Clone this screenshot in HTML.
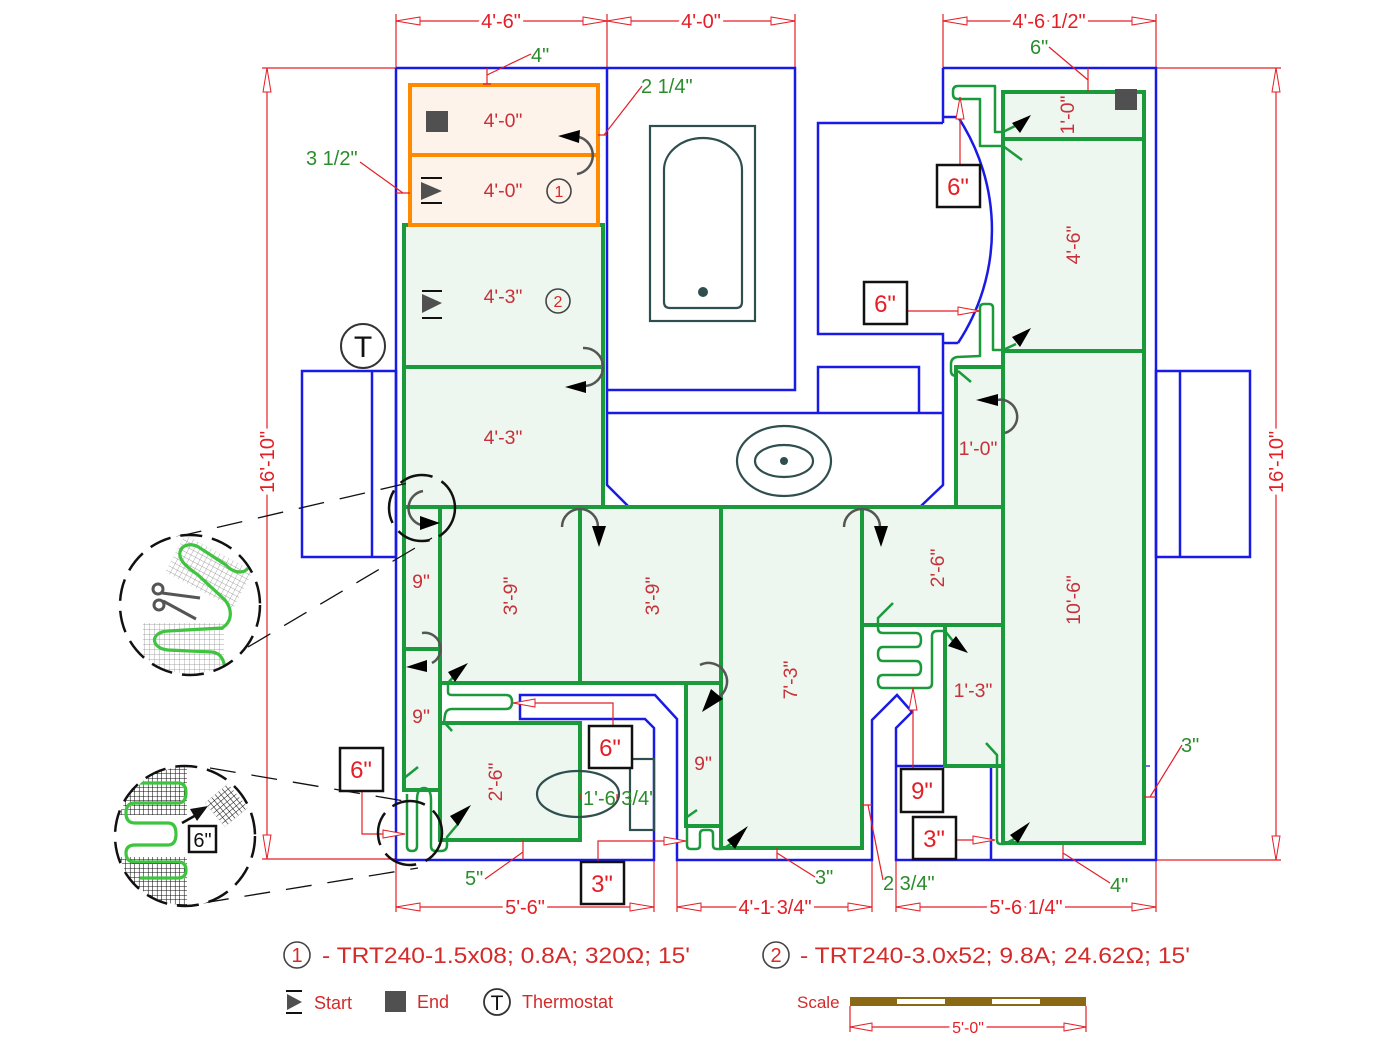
<!DOCTYPE html>
<html><head><meta charset="utf-8"><style>
html,body{margin:0;padding:0;background:#fff;}
svg{display:block;}
text{font-family:"Liberation Sans",Arial,sans-serif;}
</style></head><body>
<svg width="1400" height="1049" viewBox="0 0 1400 1049" xmlns="http://www.w3.org/2000/svg">
<defs>
<pattern id="g1" width="5" height="5" patternUnits="userSpaceOnUse"><path d="M5 0V5M0 5H5" stroke="#8a8a8a" stroke-width="0.7" fill="none"/></pattern>
<pattern id="g2" width="4.5" height="4.5" patternUnits="userSpaceOnUse"><rect width="4.5" height="4.5" fill="#fff"/><path d="M4.5 0V4.5M0 4.5H4.5" stroke="#111" stroke-width="1.1" fill="none"/></pattern>
<clipPath id="c1"><circle cx="190" cy="605" r="69"/></clipPath>
<clipPath id="c2"><circle cx="185" cy="836" r="69"/></clipPath>
</defs>
<rect width="1400" height="1049" fill="#fff"/>

<!-- ===== RED DIMENSIONS ===== -->
<g stroke="#e41e26" stroke-width="1.2" fill="none">
  <path d="M396,14V68M607,14V68M795,14V68M943,14V68M1156,14V68"/>
  <path d="M396,21H795M943,21H1156"/>
  <path d="M262,68H396M262,859H396M267,68V859"/>
  <path d="M1156,68H1281M1156,860H1281M1276,68V860"/>
  <path d="M396,860V912M654,860V912M677,860V912M872,860V912M896,860V912M1156,860V912"/>
  <path d="M396,907H654M677,907H872M896,907H1156"/>
  <path d="M850,1006V1032M1086,1006V1032M850,1027H1086"/>
</g>
<g fill="#fff" stroke="#e41e26" stroke-width="1">
  <polygon points="396,21 420,17 420,25"/><polygon points="607,21 583,17 583,25"/>
  <polygon points="607,21 631,17 631,25"/><polygon points="795,21 771,17 771,25"/>
  <polygon points="943,21 967,17 967,25"/><polygon points="1156,21 1132,17 1132,25"/>
  <polygon points="267,68 263,92 271,92"/><polygon points="267,859 263,835 271,835"/>
  <polygon points="1276,68 1272,92 1280,92"/><polygon points="1276,860 1272,836 1280,836"/>
  <polygon points="396,907 420,903 420,911"/><polygon points="654,907 630,903 630,911"/>
  <polygon points="677,907 701,903 701,911"/><polygon points="872,907 848,903 848,911"/>
  <polygon points="896,907 920,903 920,911"/><polygon points="1156,907 1132,903 1132,911"/>
  <polygon points="850,1027 872,1023 872,1031"/><polygon points="1086,1027 1064,1023 1064,1031"/>
</g>
<g fill="#e41e26" font-size="20" text-anchor="middle" stroke="#fff" stroke-width="7" paint-order="stroke">
  <text x="501" y="28">4'-6"</text>
  <text x="701" y="28">4'-0"</text>
  <text x="1049" y="28">4'-6 1/2"</text>
  <text x="525" y="914">5'-6"</text>
  <text x="775" y="914">4'-1 3/4"</text>
  <text x="1026" y="914">5'-6 1/4"</text>
  <text transform="translate(274,462) rotate(-90)">16'-10"</text>
  <text transform="translate(1283,462) rotate(-90)">16'-10"</text>
  <text x="968" y="1033" font-size="16">5'-0"</text>
</g>

<!-- ===== BLUE WALLS ===== -->
<g stroke="#1a1ae6" stroke-width="2.5" fill="none">
  <path d="M396,68H795V390H607"/>
  <path d="M607,68V485L628,506"/>
  <path d="M607,413H943"/>
  <path d="M943,68H1156V860H896V728L912,712L897,695L872,720V860H677V719L655,695H520V719H645L654,728V860H396V68"/>
  <path d="M943,68V123"/>
  <path d="M958,117H943"/>
  <path d="M943,123H818V334H943V485L921,506"/>
  <path d="M943,343H958"/>
  <path d="M958,117A205,205 0 0 1 958,343"/>
  <path d="M818,413V367H919V413"/>
  <rect x="302" y="371" width="94" height="186"/><path d="M372,371V557"/>
  <rect x="1156" y="371" width="94" height="186"/><path d="M1180,371V557"/>
  <path d="M896,766H945M991,766V860"/>
</g>
<path d="M1003,766H1150" stroke="#1a1ae6" stroke-width="1.2" stroke-dasharray="14 14"/>

<!-- ===== GREEN ZONES ===== -->
<g fill="#edf7ef" stroke="#1b9a3b" stroke-width="4">
  <rect x="404" y="225" width="199" height="142"/>
  <rect x="404" y="367" width="199" height="140"/>
  <rect x="404" y="507" width="36" height="142"/>
  <rect x="404" y="649" width="36" height="141"/>
  <rect x="440" y="507" width="140" height="176"/>
  <rect x="580" y="507" width="141" height="176"/>
  <rect x="721" y="507" width="141" height="341"/>
  <rect x="686" y="683" width="35" height="143"/>
  <rect x="440" y="723" width="140" height="117"/>
  <rect x="862" y="507" width="141" height="118"/>
  <rect x="945" y="625" width="58" height="141"/>
  <rect x="956" y="367" width="47" height="140"/>
  <rect x="1003" y="92" width="141" height="751"/>
  <path d="M1003,139H1144M1003,351H1144" fill="none"/>
</g>
<rect x="410" y="85" width="188" height="140" fill="#fdf3eb" stroke="#ff8a00" stroke-width="4"/>
<line x1="410" y1="155" x2="598" y2="155" stroke="#ff8a00" stroke-width="4"/>

<!-- ===== FIXTURES ===== -->
<g stroke="#2f4f4f" stroke-width="2.2" fill="none">
  <rect x="650" y="126" width="105" height="195"/>
  <path d="M664,170A39,32 0 0 1 742,170V302Q742,308 736,308H670Q664,308 664,302Z"/>
  <ellipse cx="784" cy="461" rx="47" ry="35"/>
  <ellipse cx="784" cy="461" rx="29" ry="16"/>
  <ellipse cx="578" cy="794" rx="41" ry="23"/>
  <rect x="630" y="759" width="24" height="71"/>
</g>
<circle cx="703" cy="292" r="5" fill="#2f4f4f"/>
<circle cx="784" cy="461" r="4" fill="#2f4f4f"/>

<!-- thin serpentines -->
<g stroke="#1b9a3b" stroke-width="2.5" fill="none" stroke-linejoin="round">
  <path d="M1015,126L1003,132H995V86H958Q953,86 953,91V94Q953,99 958,99H980V146H1003L1022,160"/>
  <path d="M1016,344L1003,350H993V308Q993,304 989,304H984Q980,304 980,308V356L957,357Q951,358 951,364V371Q951,376 957,376"/>
  <path d="M958,371L971,382"/>
  <path d="M893,603L878,618V628Q878,633 883,633H916Q921,633 921,640Q921,647 916,647H883Q878,647 878,654Q878,661 883,661H916Q921,661 921,668Q921,675 916,675H883Q878,675 878,681Q878,688 883,688H927Q932,688 932,683V636Q932,631 937,631H945L953,641"/>
  <path d="M455,675L448,683V692Q448,695 452,695H506Q512,695 512,702Q512,709 506,709H452Q446,709 445,715L444,722L452,731"/>
  <path d="M403,779L418,767"/>
  <path d="M407,794V846Q407,851 412,851Q417,851 417,846V800Q417,788 424,788Q431,788 431,800V846Q431,851 436,851H441Q447,851 447,845V837L458,824"/>
  <path d="M687,825V845Q687,849 691,849H696Q700,849 700,845V834Q700,830 704,830H709Q713,830 713,834V845Q713,849 717,849H723L735,841"/>
  <path d="M687,817L697,810"/>
  <path d="M986,743L997,755V840Q997,844 1001,844H1005L1016,838"/>
</g>

<!-- curved arrows -->
<g stroke="#555" stroke-width="2.5" fill="none">
  <path d="M579,137A19,19 0 0 1 577,174"/>
  <path d="M583,348A19,19 0 0 1 585,386"/>
  <path d="M423,491A17.5,17.5 0 0 0 421,525"/>
  <path d="M562,527A18,18 0 0 1 598,527"/>
  <path d="M844,527A18,18 0 0 1 880,527"/>
  <path d="M997,400A17,17 0 0 1 1005,433"/>
  <path d="M422,633A16,16 0 0 1 432,663"/>
  <path d="M700,665A18,18 0 0 1 717,698"/>
</g>
<g fill="#000">
  <polygon points="558,136 580,130 579,143"/>
  <polygon points="565,387 586,381 586,393"/>
  <polygon points="440,523 420,516 420,530"/>
  <polygon points="599,547 592,526 606,526"/>
  <polygon points="881,547 874,526 888,526"/>
  <polygon points="976,400 998,394 998,406"/>
  <polygon points="406,667 427,660 427,672"/>
  <polygon points="702,712 711,689 723,699"/>
  <polygon points="1031,115 1012,123 1020,133"/>
  <polygon points="1031,328 1012,337 1020,347"/>
  <polygon points="1030,822 1010,835 1018,843"/>
  <polygon points="968,653 948,646 956,636"/>
  <polygon points="468,663 448,672 455,682"/>
  <polygon points="471,805 450,816 458,826"/>
  <polygon points="748,826 727,840 735,849"/>
</g>

<!-- symbols -->
<rect x="426" y="111" width="22" height="21" fill="#505050"/>
<rect x="1115" y="89" width="22" height="21" fill="#505050"/>
<g stroke="#111" stroke-width="2"><path d="M421,178H442M421,203H442M422,291H442M422,318H442"/></g>
<polygon points="421,182 442,191 421,200" fill="#505050"/>
<polygon points="422,294 442,303 422,313" fill="#505050"/>
<g stroke="#444" stroke-width="1.6" fill="none">
  <circle cx="559" cy="191" r="12"/><circle cx="558" cy="301" r="12"/>
</g>
<g fill="#d42a2a" font-size="16" text-anchor="middle"><text x="559" y="197">1</text><text x="558" y="307">2</text></g>
<circle cx="363" cy="346" r="22" stroke="#333" stroke-width="2" fill="#fff"/>
<text x="363" y="357" font-size="30" text-anchor="middle" fill="#111">T</text>

<!-- zone labels -->
<g fill="#c8313a" font-size="19.5" text-anchor="middle">
  <text x="503" y="127">4'-0"</text>
  <text x="503" y="197">4'-0"</text>
  <text x="503" y="303">4'-3"</text>
  <text x="503" y="444">4'-3"</text>
  <text transform="translate(517,596) rotate(-90)">3'-9"</text>
  <text transform="translate(659,596) rotate(-90)">3'-9"</text>
  <text x="421" y="588">9"</text>
  <text x="421" y="723">9"</text>
  <text transform="translate(502,782) rotate(-90)">2'-6"</text>
  <text transform="translate(797,680) rotate(-90)">7'-3"</text>
  <text x="703" y="770">9"</text>
  <text transform="translate(944,568) rotate(-90)">2'-6"</text>
  <text x="973" y="697">1'-3"</text>
  <text x="978" y="455">1'-0"</text>
  <text transform="translate(1080,600) rotate(-90)">10'-6"</text>
  <text transform="translate(1080,245) rotate(-90)">4'-6"</text>
  <text transform="translate(1074,115) rotate(-90)">1'-0"</text>
</g>

<!-- green notes with leaders -->
<g stroke="#e41e26" stroke-width="1.2" fill="none">
  <path d="M487,68V84M483,84H491M487,75L531,54"/>
  <path d="M598,135H607M604,135L642,86"/>
  <path d="M396,193H410M403,193L360,162"/>
  <path d="M1088,68V92M1088,80L1049,47"/>
  <path d="M523,840V860M523,852L485,879"/>
  <path d="M777,848V860M777,853L815,877"/>
  <path d="M862,805H872M868,805L883,880"/>
  <path d="M1063,845V860M1063,853L1110,883"/>
  <path d="M1144,797H1156M1150,797L1182,745"/>
  <path d="M580,794V800M617,794V800"/>
</g>
<g fill="#2b8c2b" font-size="20">
  <text x="531" y="62">4"</text>
  <text x="641" y="93">2 1/4"</text>
  <text x="306" y="165">3 1/2"</text>
  <text x="1030" y="54">6"</text>
  <text x="465" y="885">5"</text>
  <text x="815" y="884">3"</text>
  <text x="883" y="890">2 3/4"</text>
  <text x="1110" y="892">4"</text>
  <text x="1181" y="752">3"</text>
  <text x="583" y="805">1'-6 3/4'</text>
</g>

<!-- boxed labels with leaders -->
<g stroke="#e41e26" stroke-width="1.2" fill="none">
  <path d="M960,165V97"/>
  <path d="M907,311H980"/>
  <path d="M613,726V703H513"/>
  <path d="M362,791V834H405"/>
  <path d="M598,862V841H686"/>
  <path d="M913,769V688"/>
  <path d="M956,840H995"/>
</g>
<g fill="#fff" stroke="#e41e26" stroke-width="1">
  <polygon points="960,97 956,119 964,119"/>
  <polygon points="980,311 958,307 958,315"/>
  <polygon points="513,703 535,699 535,707"/>
  <polygon points="405,834 383,830 383,838"/>
  <polygon points="686,841 664,837 664,845"/>
  <polygon points="913,688 909,710 917,710"/>
  <polygon points="995,840 973,836 973,844"/>
</g>
<g fill="#fff" stroke="#111" stroke-width="2.5">
  <rect x="937" y="165" width="43" height="42"/>
  <rect x="864" y="282" width="43" height="42"/>
  <rect x="589" y="726" width="43" height="42"/>
  <rect x="340" y="748" width="43" height="43"/>
  <rect x="581" y="862" width="43" height="42"/>
  <rect x="901" y="769" width="42" height="43"/>
  <rect x="913" y="817" width="43" height="42"/>
</g>
<g fill="#e41e26" font-size="24" text-anchor="middle">
  <text x="958" y="195">6"</text>
  <text x="885" y="312">6"</text>
  <text x="610" y="756">6"</text>
  <text x="361" y="778">6"</text>
  <text x="602" y="892">3"</text>
  <text x="922" y="799">9"</text>
  <text x="934" y="847">3"</text>
</g>

<!-- ===== MAGNIFIERS ===== -->
<g stroke="#111" stroke-width="1.3" stroke-dasharray="26 16" fill="none">
  <path d="M176,537L408,483"/>
  <path d="M248,647L432,538"/>
  <path d="M210,768L410,802"/>
  <path d="M203,903L418,868"/>
</g>
<g stroke="#111" stroke-width="2.5" fill="none">
  <circle cx="422" cy="508" r="33" stroke-dasharray="34 10"/>
  <circle cx="410" cy="833" r="32" stroke-dasharray="34 10"/>
</g>
<circle cx="190" cy="605" r="70" fill="#fff"/>
<g clip-path="url(#c1)">
  <rect x="143" y="623" width="81" height="52" fill="url(#g1)"/>
  <g transform="translate(185,535) rotate(28)"><rect x="0" y="0" width="77" height="42" fill="url(#g1)"/></g>
  <path d="M248,568C243,575 232,572 226,565L200,548C190,541 178,546 180,556C182,564 190,569 198,575L225,600C233,610 232,622 222,628L168,631C150,632 150,648 168,650L212,652C222,653 224,662 225,668" stroke="#3ec43e" stroke-width="3.2" fill="none"/>
</g>
<g stroke="#555" stroke-width="3" fill="none">
  <circle cx="158" cy="589" r="5"/>
  <circle cx="159" cy="605" r="5"/>
  <path d="M162,593L200,598M163,601L196,619"/>
</g>
<circle cx="190" cy="605" r="70" stroke="#111" stroke-width="2.5" fill="none" stroke-dasharray="22 10"/>
<circle cx="185" cy="836" r="70" fill="#fff"/>
<g clip-path="url(#c2)">
  <rect x="112" y="765" width="75" height="50" fill="url(#g2)"/>
  <rect x="112" y="857" width="75" height="50" fill="url(#g2)"/>
  <path d="M140,783H178Q186,783 186,793Q186,803 178,803H135Q126,803 126,813Q126,823 135,823H168Q176,823 176,834Q176,845 168,845H135Q126,845 126,853Q126,862 135,862H178Q186,862 186,870Q186,878 178,878H140" stroke="#3ec43e" stroke-width="3.2" fill="none"/>
</g>
<g transform="translate(205,803) rotate(-40)"><rect x="0" y="0" width="30" height="31" fill="url(#g2)"/></g>
<path d="M182,823L198,814" stroke="#111" stroke-width="2.5"/>
<polygon points="208,806 190,809 197,821" fill="#111"/>
<rect x="189" y="826" width="27" height="26" fill="#fff" stroke="#111" stroke-width="2.5"/>
<text x="202.5" y="847" font-size="20" text-anchor="middle" fill="#111">6"</text>
<circle cx="185" cy="836" r="70" stroke="#111" stroke-width="2.5" fill="none" stroke-dasharray="22 10"/>

<!-- ===== LEGEND ===== -->
<g stroke="#444" stroke-width="1.6" fill="none">
  <circle cx="297" cy="955" r="13"/><circle cx="776" cy="955" r="13"/>
</g>
<g fill="#d42a2a" font-size="20" text-anchor="middle"><text x="297" y="962">1</text><text x="776" y="962">2</text></g>
<text x="322" y="963" font-size="22" fill="#d42a2a" textLength="368" lengthAdjust="spacingAndGlyphs">- TRT240-1.5x08; 0.8A; 320Ω; 15'</text>
<text x="800" y="963" font-size="22" fill="#d42a2a" textLength="390" lengthAdjust="spacingAndGlyphs">- TRT240-3.0x52; 9.8A; 24.62Ω; 15'</text>
<g stroke="#111" stroke-width="2"><path d="M286,991H302M286,1013H302"/></g>
<polygon points="287,994 302,1002 287,1010" fill="#505050"/>
<rect x="385" y="991" width="21" height="21" fill="#505050"/>
<circle cx="497" cy="1002" r="13" stroke="#333" stroke-width="1.8" fill="#fff"/>
<text x="497" y="1010" font-size="21" text-anchor="middle" fill="#111">T</text>
<g fill="#d42a2a" font-size="18">
  <text x="314" y="1009">Start</text>
  <text x="417" y="1008">End</text>
  <text x="522" y="1008">Thermostat</text>
  <text x="797" y="1008" font-size="17">Scale</text>
</g>
<rect x="850" y="997" width="236" height="9" fill="#8b6914"/>
<rect x="897" y="999" width="48" height="5" fill="#fff"/>
<rect x="992" y="999" width="48" height="5" fill="#fff"/>
</svg>
</body></html>
